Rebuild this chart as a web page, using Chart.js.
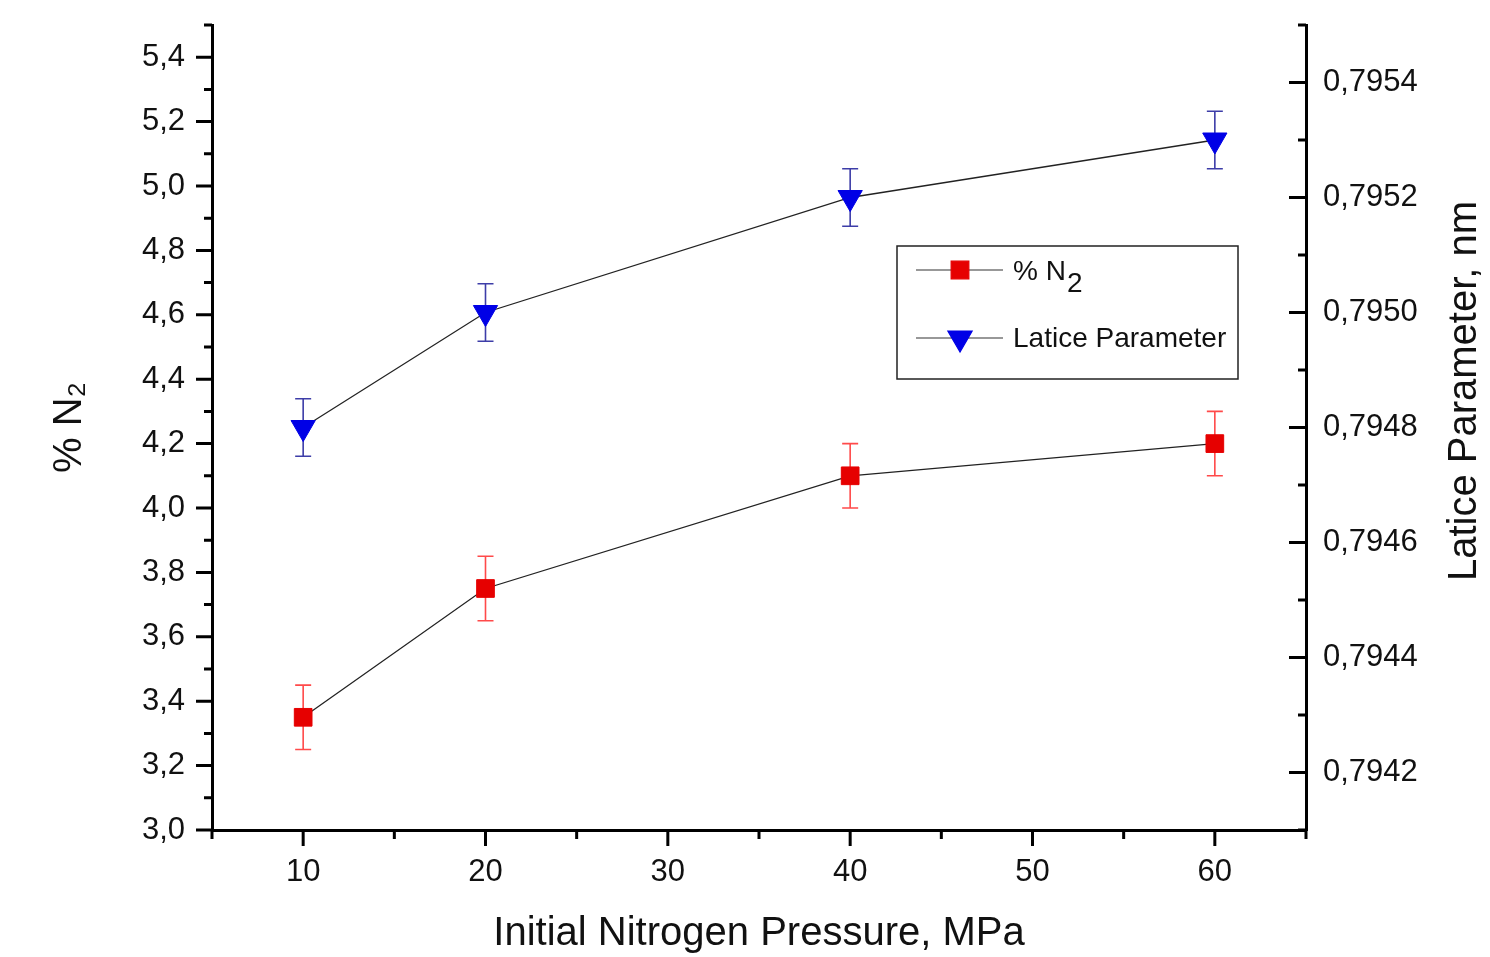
<!DOCTYPE html>
<html>
<head>
<meta charset="utf-8">
<script src="https://cdn.jsdelivr.net/npm/chart.js@4.4.1/dist/chart.umd.min.js"></script>
<style>
	body { margin: 0; background: #fff; }
	canvas { display: block; }
</style>
</head>
<body>
<canvas id="pressureChart" width="1490" height="957"></canvas>
<script>
	var pressures = [10, 20, 40, 60];
	var nitrogenValues = [3.35, 3.75, 4.10, 4.20];
	var nitrogenErrors = [0.1, 0.1, 0.1, 0.1];
	var latticeValues = [0.7948, 0.7950, 0.7952, 0.7953];
	var latticeErrors = [0.00005, 0.00005, 0.00005, 0.00005];

	// axis ticks
	var pressureTicks = [10, 20, 30, 40, 50, 60];
	var pressureMinorTicks = [5, 15, 25, 35, 45, 55, 65];
	var nitrogenTicks = [3.0, 3.2, 3.4, 3.6, 3.8, 4.0, 4.2, 4.4, 4.6, 4.8, 5.0, 5.2, 5.4];
	var nitrogenMinorTicks = [3.1, 3.3, 3.5, 3.7, 3.9, 4.1, 4.3, 4.5, 4.7, 4.9, 5.1, 5.3, 5.5];
	var latticeTicks = [0.7942, 0.7944, 0.7946, 0.7948, 0.7950, 0.7952, 0.7954];
	var latticeMinorTicks = [0.7941, 0.7943, 0.7945, 0.7947, 0.7949, 0.7951, 0.7953, 0.7955];

	var fontFamily = "'Liberation Sans', Arial, sans-serif";

	function toPoints(xs, ys) {
		var points = [];
		xs.forEach(function (x, i) {
			points.push({ x: x, y: ys[i] });
		});
		return points;
	}

	function commaLabel(digits) {
		return function (value) {
			return Number(value).toFixed(digits).replace('.', ',');
		};
	}

	function setTicks(values) {
		return function (scale) {
			scale.ticks = values.map(function (v) { return { value: v }; });
		};
	}

	// fixed axis box size, no extra label padding
	function fixWidth(w) {
		return function (scale) {
			scale.width = w;
			scale.paddingTop = 0;
			scale.paddingBottom = 0;
		};
	}

	function fixHeight(h) {
		return function (scale) {
			scale.height = h;
			scale.paddingLeft = 0;
			scale.paddingRight = 0;
		};
	}

	/**
	 * Error bars, drawn under the markers
	 */
	var errorBarsPlugin = {
		id: 'errorBars',
		beforeDatasetsDraw: function (chart) {
			var ctx = chart.ctx;
			chart.data.datasets.forEach(function (ds, di) {
				var meta = chart.getDatasetMeta(di);
				var yScale = chart.scales[ds.yAxisID];
				ctx.save();
				ctx.strokeStyle = ds.errorColor;
				ctx.lineWidth = 1.6;
				meta.data.forEach(function (pt, i) {
					var v = ds.data[i].y;
					var yTop = yScale.getPixelForValue(v + ds.errors[i]);
					var yBot = yScale.getPixelForValue(v - ds.errors[i]);
					ctx.beginPath();
					ctx.moveTo(pt.x, yTop);
					ctx.lineTo(pt.x, yBot);
					ctx.moveTo(pt.x - 8, yTop);
					ctx.lineTo(pt.x + 8, yTop);
					ctx.moveTo(pt.x - 8, yBot);
					ctx.lineTo(pt.x + 8, yBot);
					ctx.stroke();
				});
				ctx.restore();
			});
		}
	};

	/**
	 * Major and minor tick marks (left/bottom outward, right inward)
	 */
	var tickMarksPlugin = {
		id: 'tickMarks',
		afterDraw: function (chart) {
			var ctx = chart.ctx;
			var area = chart.chartArea;
			var sx = chart.scales.x, sy = chart.scales.y, sy1 = chart.scales.y1;
			ctx.save();
			ctx.strokeStyle = '#000';
			ctx.lineWidth = 3;
			ctx.beginPath();
			pressureTicks.forEach(function (v) {
				var px = sx.getPixelForValue(v);
				ctx.moveTo(px, area.bottom); ctx.lineTo(px, area.bottom + 16);
			});
			pressureMinorTicks.forEach(function (v) {
				var px = sx.getPixelForValue(v);
				ctx.moveTo(px, area.bottom); ctx.lineTo(px, area.bottom + 9);
			});
			nitrogenTicks.forEach(function (v) {
				var py = sy.getPixelForValue(v);
				ctx.moveTo(area.left, py); ctx.lineTo(area.left - 16, py);
			});
			nitrogenMinorTicks.forEach(function (v) {
				var py = sy.getPixelForValue(v);
				ctx.moveTo(area.left, py); ctx.lineTo(area.left - 8, py);
			});
			latticeTicks.forEach(function (v) {
				var py = sy1.getPixelForValue(v);
				ctx.moveTo(area.right, py); ctx.lineTo(area.right - 17, py);
			});
			latticeMinorTicks.forEach(function (v) {
				var py = sy1.getPixelForValue(v);
				ctx.moveTo(area.right, py); ctx.lineTo(area.right - 8, py);
			});
			ctx.stroke();

			// right axis title reads bottom to top
			ctx.fillStyle = '#111';
			ctx.font = '40px ' + fontFamily;
			ctx.textAlign = 'center';
			ctx.textBaseline = 'middle';
			ctx.translate(1465, 391);
			ctx.rotate(-Math.PI / 2);
			ctx.fillText('Latice Parameter, nm', 0, 0);
			ctx.restore();
		}
	};

	/**
	 * Boxed legend inside the plot
	 */
	var boxLegendPlugin = {
		id: 'boxLegend',
		afterDraw: function (chart) {
			var ctx = chart.ctx;
			var rows = [270, 338];
			ctx.save();
			ctx.strokeStyle = '#222';
			ctx.lineWidth = 1.5;
			ctx.strokeRect(897, 246, 341, 133);
			chart.data.datasets.forEach(function (ds, i) {
				var y = rows[i];
				ctx.strokeStyle = '#333';
				ctx.lineWidth = 1.2;
				ctx.beginPath();
				ctx.moveTo(916, y); ctx.lineTo(1003, y);
				ctx.stroke();
				ctx.fillStyle = ds.pointBackgroundColor;
				ctx.strokeStyle = ds.pointBackgroundColor;
				Chart.helpers.drawPoint(ctx, {
					pointStyle: ds.pointStyle,
					rotation: ds.pointRotation || 0,
					radius: ds.pointRadius,
					borderWidth: 1
				}, 960, y);
				ctx.fillStyle = '#111';
				ctx.font = '28px ' + fontFamily;
				ctx.textAlign = 'left';
				ctx.textBaseline = 'middle';
				if (i === 0) {
					ctx.fillText('% N', 1013, y + 2);
					var w = ctx.measureText('% N').width;
					ctx.fillText('2', 1013 + w + 1, y + 14);
				} else {
					ctx.fillText(ds.label, 1013, y + 1);
				}
			});
			ctx.restore();
		}
	};

	var ctx = document.getElementById('pressureChart').getContext('2d');

	var pressureChart = new Chart(ctx, {
		type: 'line',
		data: {
			datasets: [{
				label: '% N2',
				data: toPoints(pressures, nitrogenValues),
				errors: nitrogenErrors,
				errorColor: '#ff4a4a',
				yAxisID: 'y',
				borderColor: '#222',
				borderWidth: 1.3,
				tension: 0,
				pointStyle: 'rect',
				pointRadius: 12.5,
				pointBackgroundColor: '#e60000',
				pointBorderColor: '#e60000',
				pointBorderWidth: 1
			}, {
				label: 'Latice Parameter',
				data: toPoints(pressures, latticeValues),
				errors: latticeErrors,
				errorColor: '#3d3da8',
				yAxisID: 'y1',
				borderColor: '#222',
				borderWidth: 1.3,
				tension: 0,
				pointStyle: 'triangle',
				pointRotation: 180,
				pointRadius: 14,
				pointBackgroundColor: '#0000e6',
				pointBorderColor: '#0000e6',
				pointBorderWidth: 1
			}]
		},
		options: {
			responsive: false,
			animation: false,
			devicePixelRatio: 1,
			layout: { padding: { top: 25, left: 0, right: 0, bottom: 0 } },
			plugins: {
				legend: { display: false },
				tooltip: { enabled: false }
			},
			scales: {
				x: {
					type: 'linear',
					min: 5,
					max: 65,
					afterBuildTicks: setTicks(pressureTicks),
					afterFit: fixHeight(127),
					grid: { display: false, drawTicks: false },
					border: { display: true, color: '#000', width: 3 },
					ticks: {
						padding: 24,
						color: '#111',
						font: { family: fontFamily, size: 31 },
						callback: function (value) { return value; }
					},
					title: {
						display: true,
						text: 'Initial Nitrogen Pressure, MPa',
						color: '#111',
						padding: { top: 0, bottom: 0 },
						font: { family: fontFamily, size: 40, lineHeight: 1.15 }
					}
				},
				y: {
					type: 'linear',
					position: 'left',
					min: 3.0,
					max: 5.5,
					afterBuildTicks: setTicks(nitrogenTicks),
					afterFit: fixWidth(212),
					grid: { display: false, drawTicks: false },
					border: { display: true, color: '#000', width: 3 },
					ticks: {
						padding: 27,
						color: '#111',
						font: { family: fontFamily, size: 31 },
						callback: commaLabel(1)
					},
					title: {
						display: true,
						text: '% N\u2082',
						color: '#111',
						padding: { top: 47, bottom: 0 },
						font: { family: fontFamily, size: 40, lineHeight: 1.15 }
					}
				},
				y1: {
					type: 'linear',
					position: 'right',
					min: 0.7941,
					max: 0.7955,
					afterBuildTicks: setTicks(latticeTicks),
					afterFit: fixWidth(184),
					grid: { display: false, drawTicks: false },
					border: { display: true, color: '#000', width: 3 },
					ticks: {
						padding: 17,
						color: '#111',
						font: { family: fontFamily, size: 31 },
						callback: commaLabel(4)
					}
				}
			}
		},
		plugins: [errorBarsPlugin, tickMarksPlugin, boxLegendPlugin]
	});
</script>
</body>
</html>
